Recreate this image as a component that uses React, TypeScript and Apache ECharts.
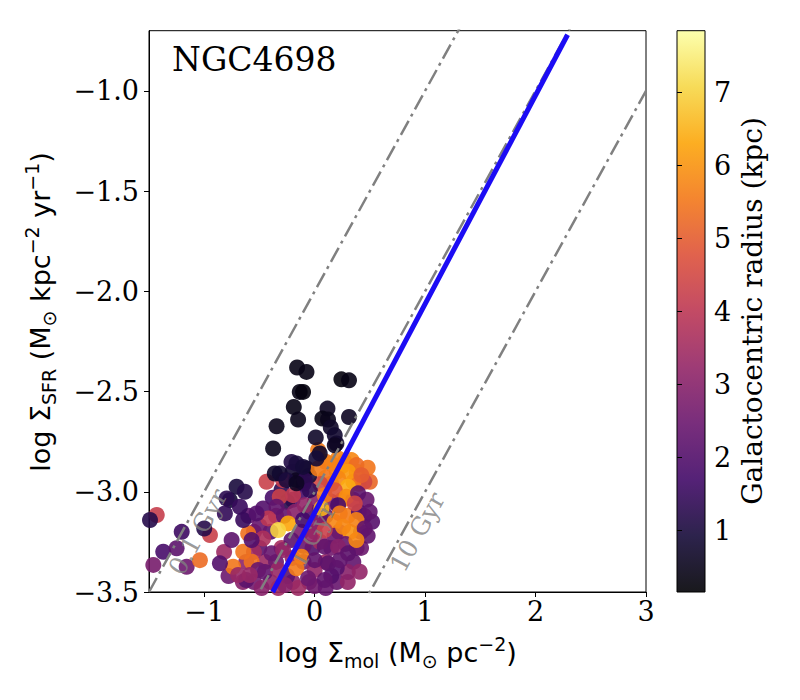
import React, { useEffect, useRef } from 'react';
import * as echarts from 'echarts';

// log Σ_mol (x), log Σ_SFR (y), galactocentric radius in kpc (colour)
const logMol = [
  -0.65, -0.55, -0.2, -0.05, 0.2, 0.3, -0.62, -0.45, -0.1, 0.1,
  0.35, -0.5, -0.3, -0.02, 0.15, 0.38, -0.55, -0.4, -0.12, 0.0,
  0.22, 0.42, -0.6, -0.35, 0.05, 0.3, 0.45, -0.2, 0.25, 0.35,
  0.47, 0.15, 0.4, -0.1, 0.2, 0.38, 0.1, 0.27, 0.5, 0.48,
  -0.5, -0.4, -0.15, 0.0, 0.15, 0.3, -0.55, -0.62, -0.82, -0.78,
  -0.25, -0.12, 0.0, 0.15, 0.4, 0.45, 0.35, 0.25, 0.15, 0.1,
  0.05, -0.05, -0.2, -0.3, -0.38, -0.28, -0.18, -0.05, 0.1, 0.18,
  0.32, 0.28, 0.42, 0.48, 0.52, -0.1, -0.2, 0.05, 0.18, -0.35,
  -0.45, -0.25, 0.0, 0.2, -0.48, -0.33, 0.1,
  0.031, 0.212, 0.333, 0.378, -0.074, 0.031, 0.302, 0.423, -0.286, -0.165,
  -0.09, 0.212, 0.302, -0.316, -0.195, -0.044, 0.091, 0.182, 0.288, 0.393,
  -0.768, -0.467, -0.345, -0.09, 0.061, 0.212, 0.363, 0.498, -0.421, -0.24,
  -0.331, -0.105, 0.016, 0.091, 0.227, 0.257, 0.378, 0.453, 0.378, -0.752,
  -0.602, -0.467, -0.21, -0.044, 0.091, 0.212, 0.302, -0.647, -0.571, -0.738,
  -0.391, -0.286, -0.119, 0.001, 0.121, 0.227, -0.165, -0.331, -0.512, -0.693,
  0.408, -0.06, 0.091, -0.27,
  -1.43, -1.491, -1.204, -1.371, -1.461, -1.25, -1.159, -1.039, -0.948, -1.0,
  -0.858, -0.707, -0.632, -0.797, -0.813, -0.677, -0.647, -0.526, -0.571, -0.587,
  -0.436, -0.361,
  -0.159, -0.074, 0.242, 0.311, -0.135, -0.105, -0.189, -0.15, 0.116, 0.07,
  0.121, 0.311, -0.345, 0.146, 0.182, 0.01, -0.376, 0.197, 0.046, 0.016,
  -0.21, -0.165, -0.105, -0.316, -0.255, -0.165, 0.182,
];
const logSfr = [
  -3.45, -3.45, -3.45, -3.45, -3.45, -3.45, -3.35, -3.35, -3.35, -3.35,
  -3.35, -3.28, -3.28, -3.28, -3.28, -3.28, -3.2, -3.2, -3.2, -3.2,
  -3.2, -3.2, -3.12, -3.12, -3.12, -3.12, -3.12, -3.04, -3.04, -3.04,
  -3.04, -2.96, -2.96, -2.96, -2.9, -2.9, -2.85, -2.85, -2.95, -2.88,
  -3.17, -3.45, -3.48, -3.47, -3.42, -3.4, -3.3, -3.44, -3.3, -3.42,
  -3.05, -3.0, -3.05, -3.05, -3.1, -2.95, -2.95, -2.87, -2.86, -2.93,
  -2.96, -2.92, -2.9, -2.99, -3.03, -3.12, -3.1, -3.1, -3.12, -3.15,
  -3.2, -3.26, -3.28, -3.22, -3.15, -3.27, -3.33, -3.25, -3.22, -3.35,
  -3.4, -3.42, -3.39, -3.38, -3.48, -3.48, -3.48,
  -2.792, -2.834, -2.842, -2.867, -2.884, -2.884, -2.9, -2.917, -2.942, -2.942,
  -2.942, -2.933, -2.975, -3.025, -3.017, -2.992, -3.017, -2.992, -3.025, -3.008,
  -3.042, -3.083, -3.075, -3.067, -3.083, -3.067, -3.058, -3.1, -3.133, -3.158,
  -3.191, -3.141, -3.158, -3.191, -3.108, -3.175, -3.141, -3.183, -3.241, -3.241,
  -3.208, -3.233, -3.241, -3.224, -3.274, -3.274, -3.307, -3.299, -3.349, -3.374,
  -3.307, -3.291, -3.324, -3.341, -3.357, -3.341, -3.382, -3.39, -3.39, -3.415,
  -3.399, -3.432, -3.44, -3.465,
  -3.116, -3.141, -3.2, -3.299, -3.365, -3.282, -3.374, -3.341, -3.216, -3.183,
  -3.357, -2.975, -3.0, -3.033, -3.108, -3.075, -3.141, -3.108, -3.241, -3.415,
  -2.95, -2.909,
  -2.38, -2.402, -2.439, -2.444, -2.502, -2.502, -2.577, -2.64, -2.585, -2.635,
  -2.64, -2.627, -2.673, -2.679, -2.718, -2.729, -2.784, -2.759, -2.809, -2.834,
  -2.851, -2.859, -2.876, -2.909, -2.942, -2.958, -2.768,
];
const radius = [
  3.0, 2.6, 3.1, 2.8, 2.4, 3.2, 3.1, 3.4, 2.6, 3.4,
  2.3, 2.2, 3.6, 2.0, 2.6, 2.1, 3.2, 2.1, 2.8, 4.0,
  3.3, 3.0, 2.2, 3.5, 2.5, 5.6, 2.6, 2.0, 5.7, 3.3,
  2.4, 5.4, 5.9, 1.0, 5.9, 6.0, 5.5, 5.8, 5.2, 5.5,
  2.4, 3.1, 3.4, 2.6, 2.0, 3.0, 3.5, 2.2, 3.4, 2.5,
  1.2, 1.8, 3.0, 2.9, 2.0, 4.5, 5.5, 6.0, 5.7, 5.5,
  4.5, 0.9, 0.8, 1.3, 1.8, 2.3, 3.0, 2.0, 2.2, 5.8,
  6.0, 2.4, 2.5, 2.3, 2.1, 2.4, 3.3, 3.5, 2.4, 2.5,
  2.3, 2.2, 3.2, 2.1, 3.0, 3.4, 2.4,
  5.6, 5.7, 5.8, 5.3, 0.5, 5.6, 6.1, 5.0, 4.2, 0.6,
  1.3, 5.8, 6.4, 4.3, 4.1, 1.4, 5.6, 4.8, 5.9, 2.2,
  0.9, 2.0, 2.3, 3.2, 6.5, 1.8, 4.4, 2.3, 4.0, 6.3,
  7.0, 1.7, 3.0, 4.3, 5.6, 5.8, 5.7, 2.3, 5.8, 2.2,
  5.4, 3.7, 2.2, 3.2, 2.3, 3.0, 2.2, 5.5, 5.4, 5.5,
  2.4, 3.2, 5.7, 2.3, 2.2, 2.3, 5.6, 3.3, 2.4, 3.3,
  3.2, 2.5, 2.3, 3.0,
  4.2, 1.2, 1.6, 1.8, 2.7, 2.2, 2.5, 5.3, 4.3, 1.2,
  2.0, 1.0, 1.2, 1.3, 1.4, 1.5, 1.5, 2.0, 2.0, 3.3,
  4.3, 0.7,
  0.4, 0.4, 0.3, 0.4, 0.4, 0.3, 0.4, 0.5, 0.6, 0.4,
  0.5, 0.6, 0.5, 0.7, 0.8, 0.7, 0.5, 0.8, 0.7, 0.9,
  1.1, 1.0, 0.9, 0.8, 1.0, 0.6, 0.6,
];

// depletion-time reference lines: log Σ_SFR = log Σ_mol + offset
const depletionNames = ['0.1 Gyr', '1 Gyr', '10 Gyr'];
const depletionOffsets = [-2, -3, -4];
const depletionLineX = [-1.5, 3];
const depLabelX = [-1.055, -0.017, 0.932];
const depLabelY = [-3.2, -3.216, -3.201];

// fitted relation (blue)
const fitX = [-0.38, 2.29];
const fitY = [-3.5, -0.72];

const xTicks = [-1, 0, 1, 2, 3];
const yTicks = [-3.5, -3.0, -2.5, -2.0, -1.5, -1.0];
const cbTicks = [1, 2, 3, 4, 5, 6, 7];
const cbMin = 0.16;
const cbMax = 7.84;

const inferno = [
  '#000004', '#160b39', '#420a68', '#6a176e', '#932667', '#bc3754',
  '#dd513a', '#f37819', '#fca50a', '#f6d746', '#fcffa4',
];

const minus = (s: string) => s.replace('-', '\u2212');

export default function App() {
  const ref = useRef<HTMLDivElement>(null);
  useEffect(() => {
    if (!ref.current) return;
    const chart = echarts.init(ref.current, null, { renderer: 'svg' });

    const points = logMol.map((x, i) => [x, logSfr[i], radius[i]]);
    const depSeries = depletionOffsets.map((off) => ({
      type: 'line',
      xAxisIndex: 0,
      yAxisIndex: 0,
      data: depletionLineX.map((x) => [x, x + off]),
      symbol: 'none',
      silent: true,
      clip: true,
      z: 3,
      lineStyle: { color: '#808080', width: 2.5, type: [16, 5, 3, 5] },
    }));

    const serif = 'DejaVu Serif';
    const sans = 'DejaVu Sans';
    const richBase = {
      n: { fontFamily: sans, fontSize: 27, fill: '#000', lineHeight: 36, verticalAlign: 'middle' },
      s: { fontFamily: sans, fontSize: 19, fill: '#000', lineHeight: 19, verticalAlign: 'bottom' },
      p: { fontFamily: sans, fontSize: 19, fill: '#000', lineHeight: 19, verticalAlign: 'top' },
    };

    const stops = inferno.map((c, i) => ({ offset: i / (inferno.length - 1), color: c }));

    chart.setOption({
      animation: false,
      backgroundColor: '#fff',
      grid: [
        { left: 149, top: 30.7, width: 497, height: 561.3, show: true, borderColor: '#000', borderWidth: 1, backgroundColor: 'transparent' },
        { left: 677, top: 30.7, width: 28, height: 561.3, show: false },
      ],
      xAxis: [
        {
          type: 'value', gridIndex: 0, min: -1.5, max: 3,
          splitLine: { show: false },
          axisLine: { onZero: false, lineStyle: { color: '#000', width: 1 } },
          axisTick: { length: 5, lineStyle: { color: '#000' }, customValues: xTicks },
          axisLabel: {
            customValues: xTicks, color: '#000', fontFamily: serif, fontSize: 27, margin: 6,
            formatter: (v: number) => minus(String(v)),
          },
        },
        { type: 'value', gridIndex: 1, min: 0, max: 1, show: false },
      ],
      yAxis: [
        {
          type: 'value', gridIndex: 0, min: -3.5, max: -0.7,
          splitLine: { show: false },
          axisLine: { onZero: false, lineStyle: { color: '#000', width: 1 } },
          axisTick: { length: 5, lineStyle: { color: '#000' }, customValues: yTicks },
          axisLabel: {
            customValues: yTicks, color: '#000', fontFamily: serif, fontSize: 27, margin: 10,
            formatter: (v: number) => minus(v.toFixed(1)),
          },
        },
        {
          type: 'value', gridIndex: 1, position: 'right', min: cbMin, max: cbMax,
          splitLine: { show: false },
          axisLine: { show: false },
          axisTick: { length: 5, lineStyle: { color: '#000' }, customValues: cbTicks },
          axisLabel: { customValues: cbTicks, color: '#000', fontFamily: serif, fontSize: 27, margin: 9 },
        },
      ],
      visualMap: {
        type: 'continuous', show: false, min: cbMin, max: cbMax, dimension: 2, seriesIndex: 0,
        inRange: { color: inferno },
      },
      series: [
        {
          type: 'scatter', xAxisIndex: 0, yAxisIndex: 0, data: points,
          symbolSize: 16, itemStyle: { opacity: 0.9 }, z: 2, silent: true,
        },
        ...depSeries,
        {
          type: 'scatter', xAxisIndex: 0, yAxisIndex: 0, symbolSize: 0, z: 4, silent: true,
          data: depletionNames.map((n, i) => ({ value: [depLabelX[i], depLabelY[i]], name: n })),
          label: {
            show: true, position: 'inside', rotate: 61, formatter: (p: any) => p.name,
            color: '#808080', fontFamily: serif, fontSize: 25, align: 'center', verticalAlign: 'middle',
          },
        },
        {
          type: 'line', xAxisIndex: 0, yAxisIndex: 0, z: 5, symbol: 'none', silent: true,
          data: fitX.map((x, i) => [x, fitY[i]]),
          lineStyle: { color: '#1c0cf4', width: 5 },
        },
      ],
      graphic: [
        {
          type: 'rect', z: 0, silent: true,
          shape: { x: 677, y: 30.7, width: 28, height: 561.3 },
          style: { fill: new echarts.graphic.LinearGradient(0, 1, 0, 0, stops), opacity: 0.9 },
        },
        {
          type: 'rect', z: 10, silent: true,
          shape: { x: 677, y: 30.7, width: 28, height: 561.3 },
          style: { fill: 'none', stroke: '#000', lineWidth: 1 },
        },
        {
          type: 'text', x: 172, y: 59, z: 10, silent: true,
          style: { text: 'NGC4698', font: `33px "${serif}"`, fill: '#000', align: 'left', verticalAlign: 'middle' },
        },
        {
          type: 'text', x: 397, y: 652, z: 10, silent: true,
          style: {
            text: '{n|log Σ}{s|mol}{n| (M}{s|⊙}{n| pc}{p|−2}{n|)}',
            rich: richBase, align: 'center', verticalAlign: 'middle',
          },
        },
        {
          type: 'text', x: 40, y: 312, z: 10, silent: true, rotation: Math.PI / 2,
          style: {
            text: '{n|log Σ}{s|SFR}{n| (M}{s|⊙}{n| kpc}{p|−2}{n| yr}{p|−1}{n|)}',
            rich: richBase, align: 'center', verticalAlign: 'middle',
          },
        },
        {
          type: 'text', x: 752, y: 311, z: 10, silent: true, rotation: Math.PI / 2,
          style: {
            text: 'Galactocentric radius (kpc)', font: `28px "${serif}"`, fill: '#000',
            align: 'center', verticalAlign: 'middle',
          },
        },
      ],
    });
    return () => chart.dispose();
  }, []);
  return (
    <div
      ref={ref}
      style={{ position: 'fixed', left: 0, top: 0, width: 800, height: 700, background: '#fff' }}
    />
  );
}
